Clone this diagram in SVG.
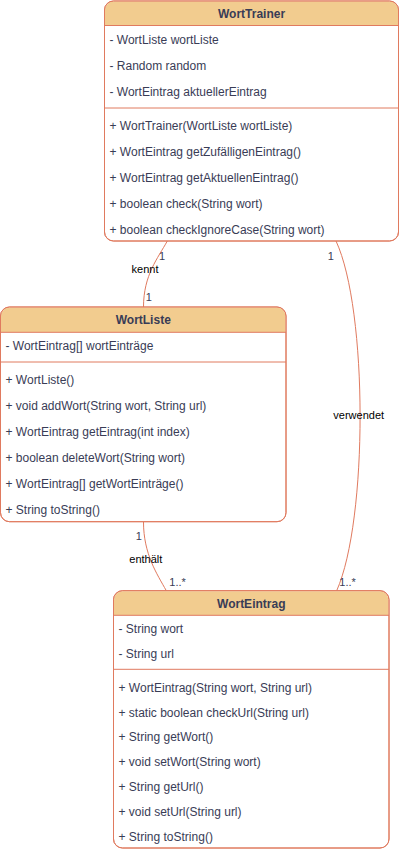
<svg xmlns="http://www.w3.org/2000/svg" width="400" height="852" viewBox="0 0 400 852">
<style>
.body{fill:#FFFFFF;stroke:#E07A5F;stroke-width:1}
.head{fill:#F2CC8F;stroke:none}
.sep{stroke:#E07A5F;stroke-width:1;fill:none}
.title{font-family:"Liberation Sans",Arial,sans-serif;font-size:12px;font-weight:bold;fill:#393C56;text-anchor:middle}
.row{font-family:"Liberation Sans",Arial,sans-serif;font-size:12px;fill:#393C56}
.edge{fill:none;stroke:#E07A5F;stroke-width:1}
.lbl{font-family:"Liberation Sans",Arial,sans-serif;font-size:11px;fill:#000000;text-anchor:middle}
.mult{font-family:"Liberation Sans",Arial,sans-serif;font-size:11px;fill:#393C56}
</style>
<rect width="400" height="852" fill="#FFFFFF"/>
<g id="connectors">
  <path class="edge" d="M167.3,241 C158,258 143.5,275 143.5,307"/>
  <path class="edge" d="M143.5,522 C143.5,554 157,574 166.3,590.7"/>
  <path class="edge" d="M336,241 C368,310 368,520 336.7,590.7"/>
  <text class="mult" x="162" y="260" text-anchor="middle">1</text>
  <text class="lbl" x="145" y="273.3">kennt</text>
  <text class="mult" x="148.7" y="301" text-anchor="middle">1</text>
  <text class="mult" x="330.7" y="260" text-anchor="middle">1</text>
  <text class="lbl" x="358.7" y="419">verwendet</text>
  <text class="mult" x="339.3" y="586">1..*</text>
  <text class="mult" x="138.7" y="540" text-anchor="middle">1</text>
  <text class="lbl" x="145.8" y="563.3">enthält</text>
  <text class="mult" x="169.3" y="586">1..*</text>
</g>
<g id="WortTrainer">
  <rect class="body" x="104.5" y="1" width="294" height="240" rx="9" ry="9"/>
  <path class="head" d="M105,25.5 V10 A8.5,8.5 0 0 1 113.5,1.5 H389.5 A8.5,8.5 0 0 1 398,10 V25.5 Z"/>
  <rect x="104.5" y="1" width="294" height="240" rx="9" ry="9" fill="none" stroke="#E07A5F"/>
  <line class="sep" x1="104.5" y1="25.5" x2="398.5" y2="25.5"/>
  <line class="sep" x1="104.5" y1="108" x2="398.5" y2="108"/>
  <text class="title" x="251.5" y="18.3">WortTrainer</text>
  <text class="row" x="109.5" y="43.6">- WortListe wortListe</text>
  <text class="row" x="109.5" y="69.6">- Random random</text>
  <text class="row" x="109.5" y="95.6">- WortEintrag aktuellerEintrag</text>
  <text class="row" x="109.5" y="130.3">+ WortTrainer(WortListe wortListe)</text>
  <text class="row" x="109.5" y="156.3">+ WortEintrag getZufälligenEintrag()</text>
  <text class="row" x="109.5" y="182.3">+ WortEintrag getAktuellenEintrag()</text>
  <text class="row" x="109.5" y="208.3">+ boolean check(String wort)</text>
  <text class="row" x="109.5" y="234.3">+ boolean checkIgnoreCase(String wort)</text>
</g>
<g id="WortListe">
  <rect class="body" x="0.5" y="307" width="285.5" height="214.7" rx="9" ry="9"/>
  <path class="head" d="M1,332.3 V316 A8.5,8.5 0 0 1 9.5,307.5 H277 A8.5,8.5 0 0 1 285.5,316 V332.3 Z"/>
  <rect x="0.5" y="307" width="285.5" height="214.7" rx="9" ry="9" fill="none" stroke="#E07A5F"/>
  <line class="sep" x1="0.5" y1="332.3" x2="286" y2="332.3"/>
  <line class="sep" x1="0.5" y1="362" x2="286" y2="362"/>
  <text class="title" x="143.25" y="324.3">WortListe</text>
  <text class="row" x="5.5" y="350.3">- WortEintrag[] wortEinträge</text>
  <text class="row" x="5.5" y="384.3">+ WortListe()</text>
  <text class="row" x="5.5" y="410.3">+ void addWort(String wort, String url)</text>
  <text class="row" x="5.5" y="436.3">+ WortEintrag getEintrag(int index)</text>
  <text class="row" x="5.5" y="462.3">+ boolean deleteWort(String wort)</text>
  <text class="row" x="5.5" y="488.3">+ WortEintrag[] getWortEinträge()</text>
  <text class="row" x="5.5" y="514.3">+ String toString()</text>
</g>
<g id="WortEintrag">
  <rect class="body" x="113.5" y="590.7" width="275.5" height="257.3" rx="9" ry="9"/>
  <path class="head" d="M114,615.3 V599.7 A8.5,8.5 0 0 1 122.5,591.2 H380 A8.5,8.5 0 0 1 388.5,599.7 V615.3 Z"/>
  <rect x="113.5" y="590.7" width="275.5" height="257.3" rx="9" ry="9" fill="none" stroke="#E07A5F"/>
  <line class="sep" x1="113.5" y1="615.3" x2="389" y2="615.3"/>
  <line class="sep" x1="113.5" y1="669.3" x2="389" y2="669.3"/>
  <text class="title" x="251.25" y="608.3">WortEintrag</text>
  <text class="row" x="118.5" y="633.3">- String wort</text>
  <text class="row" x="118.5" y="658.1">- String url</text>
  <text class="row" x="118.5" y="691.6">+ WortEintrag(String wort, String url)</text>
  <text class="row" x="118.5" y="716.5">+ static boolean checkUrl(String url)</text>
  <text class="row" x="118.5" y="741.4">+ String getWort()</text>
  <text class="row" x="118.5" y="766.3">+ void setWort(String wort)</text>
  <text class="row" x="118.5" y="791.2">+ String getUrl()</text>
  <text class="row" x="118.5" y="816.1">+ void setUrl(String url)</text>
  <text class="row" x="118.5" y="841">+ String toString()</text>
</g>
</svg>
